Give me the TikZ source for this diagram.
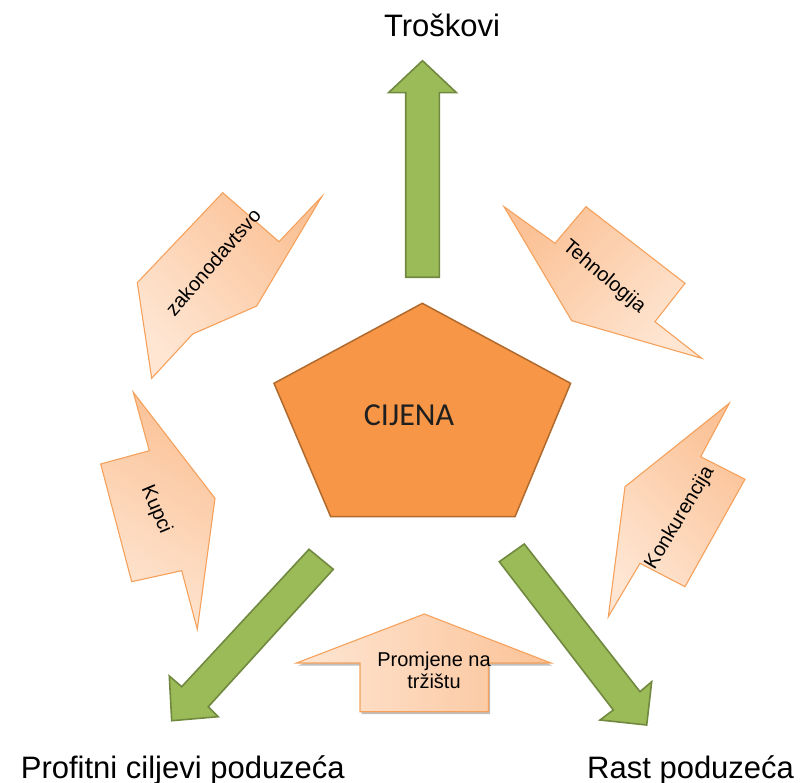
\documentclass[tikz,border=0pt]{standalone}
\usepackage{fontspec}
\setmainfont{Liberation Sans}
\newfontfamily\calibrifont{Carlito}
\usetikzlibrary{shadows}
\definecolor{peachdark}{HTML}{FBC297}
\definecolor{peachlight}{HTML}{FEE6D3}
\definecolor{peachline}{HTML}{F5A15C}
\definecolor{pentfill}{HTML}{F79646}
\definecolor{pentline}{HTML}{B06A2E}
\definecolor{grnfill}{HTML}{9BBB59}
\definecolor{grnline}{HTML}{71893F}
\begin{document}
\begin{tikzpicture}[x=1pt,y=-1pt,
  callout/.style={draw=peachline, line width=1.1pt, line join=miter, top color=peachdark, bottom color=peachlight},
  grn/.style={draw=grnline, line width=1.6pt, fill=grnfill, line join=miter},
  pent/.style={draw=pentline, line width=1.5pt, fill=pentfill, line join=miter},
  smalltxt/.style={font=\fontsize{20}{21.7}\selectfont, inner sep=0pt},
  bigtxt/.style={font=\fontsize{31}{36}\selectfont, inner sep=0pt}]
\useasboundingbox (0,0) rectangle (803,783);

% central pentagon
\path[pent] (422.3,303.3) -- (570.6,383.3) -- (515,516.7) -- (330.7,516.7) -- (274,383.3) -- cycle;

% green arrows
\path[grn] (422.5,60.7) -- (456.5,92.7) -- (439.3,92.7) -- (439.3,277.3) -- (405.7,277.3) -- (405.7,92.7) -- (388.5,92.7) -- cycle;
\path[grn] (309,549.3) -- (333.3,569.3) -- (208.3,706.7) -- (218.3,716.7) -- (171.7,720.7) -- (169.3,676) -- (181.7,686.7) -- cycle;
\path[grn] (499.3,561.7) -- (524.3,544) -- (640,691.7) -- (651.7,681.7) -- (646.7,725) -- (600,720) -- (613.3,710) -- cycle;

% peach callouts
\path[callout, shading angle=-45] (222.7,192.7) -- (279,241.7) -- (321.7,196.7) -- (256.7,306) -- (192.7,334) -- (151.7,378.3) -- (137.3,282.7) -- cycle;
\path[callout, shading angle=45] (504,206.7) -- (555,243.3) -- (586,206.7) -- (685,283.3) -- (655,321.7) -- (701.7,358.3) -- (571.7,320.7) -- cycle;
\path[callout, shading angle=-30] (133.3,392.3) -- (149.3,450.7) -- (100.7,464) -- (131.7,581.7) -- (181.7,570.7) -- (197.3,629.3) -- (215,498.3) -- cycle;
\path[callout, shading angle=-45] (729.3,403.3) -- (700.7,456.7) -- (745,479.3) -- (685,586.7) -- (640,563.3) -- (608.3,616.7) -- (625,486.7) -- cycle;
\path[callout, shading angle=-90, drop shadow={shadow xshift=1.5pt, shadow yshift=-2.5pt, opacity=0.25, fill=black}] (424.3,614) -- (551,663) -- (488.5,663) -- (488.5,711.7) -- (360,711.7) -- (360,663) -- (296.5,663) -- cycle;

% texts
\node[bigtxt, anchor=base] (trosk) at (442,37) {Troškovi};
\node[bigtxt, anchor=base east] (profit) at (345,778) {Profitni ciljevi poduzeća};
\node[bigtxt, anchor=base west] (rast) at (587,778) {Rast poduzeća};
\node[font=\calibrifont\fontsize{32}{38}\selectfont, anchor=base, inner sep=0pt, text=black!88] (cij) at (409,425) {CIJENA};
\node[smalltxt, rotate=49] (zak) at (213,262) {zakonodavtsvo};
\node[smalltxt, rotate=-40] (teh) at (604,277) {Tehnologija};
\node[smalltxt, rotate=-67] (kup) at (156,510) {Kupci};
\node[smalltxt, rotate=59] (kon) at (680,518) {Konkurencija};
\node[smalltxt, align=center] (prom) at (434,670) {Promjene na\\tržištu};
\end{tikzpicture}
\end{document}
